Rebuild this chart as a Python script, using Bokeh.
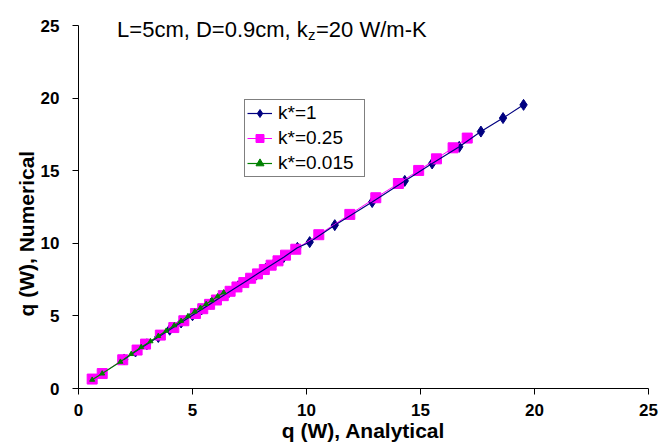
import numpy as np
from bokeh.plotting import figure
from bokeh.models import (Range1d, FixedTicker, Label, Legend, LegendItem, Title)
from bokeh.embed import file_html
from bokeh.resources import INLINE

# ---- data ----
k1_x = [2.0, 2.5, 3.0, 3.5, 4.0, 4.5, 5.0, 5.4, 5.8, 6.2, 6.6, 7.0, 7.4, 7.8,
        8.2, 8.6, 9.0, 9.6, 10.14, 11.24, 12.88, 14.31, 15.51, 16.70, 17.65,
        18.62, 19.52]
k1_y = [2.0, 2.55, 3.05, 3.55, 4.05, 4.55, 5.05, 5.45, 5.85, 6.25, 6.65, 7.05,
        7.45, 7.85, 8.25, 8.65, 9.05, 9.7, 10.09, 11.26, 12.85, 14.31, 15.51,
        16.66, 17.71, 18.64, 19.55]

k025_x = [0.60, 1.04, 1.94, 2.57, 2.94, 3.59, 4.18, 4.62, 5.13, 5.45, 5.75,
          6.05, 6.35, 6.65, 6.95, 7.25, 7.55, 7.85, 8.15, 8.45, 8.75, 9.08,
          9.53, 10.54, 11.90, 13.04, 14.03, 14.92, 15.70, 16.43, 17.05]
k025_y = [0.65, 1.03, 1.98, 2.65, 3.06, 3.68, 4.20, 4.67, 5.17, 5.50, 5.80,
          6.10, 6.40, 6.70, 7.00, 7.30, 7.60, 7.90, 8.20, 8.50, 8.80, 9.19,
          9.60, 10.60, 12.00, 13.15, 14.13, 15.03, 15.83, 16.59, 17.26]

k0015_x = [0.60, 1.04, 1.84, 2.31, 2.75, 3.16, 3.50, 3.85, 4.20, 4.50, 4.80,
           5.10, 5.35, 5.60, 5.85, 6.10, 6.37]
k0015_y = [0.60, 1.03, 1.84, 2.37, 2.85, 3.25, 3.62, 3.98, 4.35, 4.66, 4.98,
           5.30, 5.56, 5.82, 6.08, 6.35, 6.62]

ticks = [0, 5, 10, 15, 20, 25]
series_labels = ["k*=1", "k*=0.25", "k*=0.015"]
title_parts = ["L=5cm, D=0.9cm, k", "z", "=20 W/m-K"]
x_title = "q (W), Analytical"
y_title = "q (W), Numerical"

FONT = "Liberation Sans"
NAVY = "#000080"
MAGENTA = "#FF00FF"
GREEN = "#008000"

# frame spans from the canvas top; the y axis itself is bounded to 0..25
FRAME_H = 388
PX_PER_UNIT_Y = 362.7 / 25.0

p = figure(width=672, height=448, output_backend="svg", toolbar_location=None,
           x_range=Range1d(0, 25), y_range=Range1d(0, FRAME_H / PX_PER_UNIT_Y),
           min_border_left=78, min_border_right=24, min_border_top=0,
           min_border_bottom=60)
p.outline_line_color = None
p.grid.visible = False
p.background_fill_color = "white"
p.border_fill_color = "white"

for ax in (p.xaxis[0], p.yaxis[0]):
    ax.ticker = FixedTicker(ticks=ticks)
    ax.bounds = (0, 25)
    ax.major_tick_in = 0
    ax.major_tick_out = 6
    ax.minor_tick_in = 0
    ax.minor_tick_out = 0
    ax.axis_line_color = "black"
    ax.major_tick_line_color = "black"
    ax.major_label_text_font = FONT
    ax.major_label_text_font_style = "bold"
    ax.major_label_text_font_size = "17px"
    ax.major_label_text_color = "black"
    ax.axis_label_text_font = FONT
    ax.axis_label_text_font_style = "bold"
    ax.axis_label_text_font_size = "21px"
    ax.axis_label_text_color = "black"
    ax.axis_label_standoff = 0
p.xaxis.major_label_standoff = 9
p.yaxis.major_label_standoff = 13
p.xaxis.axis_label = x_title

# y-axis title as a side title so it can sit slightly below centre
ytitle = Title(text=y_title, align="left", offset=72, standoff=0,
               text_font=FONT, text_font_style="bold", text_font_size="21px",
               text_color="black")
p.add_layout(ytitle, "left")

# glyphs: navy markers under magenta, navy line over magenta
r1m = p.scatter(k1_x, k1_y, marker="diamond", size=11,
                fill_color=NAVY, line_color=NAVY)
r2l = p.line(k025_x, k025_y, line_color=MAGENTA, line_width=1)
r2m = p.scatter(k025_x, k025_y, marker="square", size=10,
                fill_color=MAGENTA, line_color=MAGENTA)
r1l = p.line(k1_x, k1_y, line_color=NAVY, line_width=1.2)
r3l = p.line(k0015_x, k0015_y, line_color=GREEN, line_width=1.2)
r3m = p.scatter(k0015_x, k0015_y, marker="triangle", size=5,
                fill_color=GREEN, line_color=GREEN)

legend = Legend(items=[
    LegendItem(label=series_labels[0], renderers=[r1l, r1m]),
    LegendItem(label=series_labels[1], renderers=[r2l, r2m]),
    LegendItem(label=series_labels[2], renderers=[r3l, r3m]),
], location=(166, 211))
legend.border_line_color = "black"
legend.border_line_width = 1
legend.background_fill_color = "white"
legend.background_fill_alpha = 1
legend.label_text_font = FONT
legend.label_text_font_size = "19px"
legend.label_text_color = "black"
legend.glyph_width = 25
legend.glyph_height = 20
legend.label_height = 20
legend.label_width = 84
legend.spacing = 3
legend.padding = 2
legend.margin = 0
legend.label_standoff = 6
p.add_layout(legend, "center")

# title with subscript (inside plot area)
base_y = FRAME_H - 29.3
for txt, x, dy, fs in [(title_parts[0], 38.6, 0, "22px"),
                       (title_parts[1], 229.5, -5, "15px"),
                       (title_parts[2], 237.5, 0, "22px")]:
    p.add_layout(Label(x=x, y=base_y + dy, x_units="screen", y_units="screen",
                       text=txt, text_font=FONT, text_font_size=fs,
                       text_color="black",
                       text_baseline="alphabetic", text_align="left"))

open("out.html", "w").write(file_html(p, INLINE))
